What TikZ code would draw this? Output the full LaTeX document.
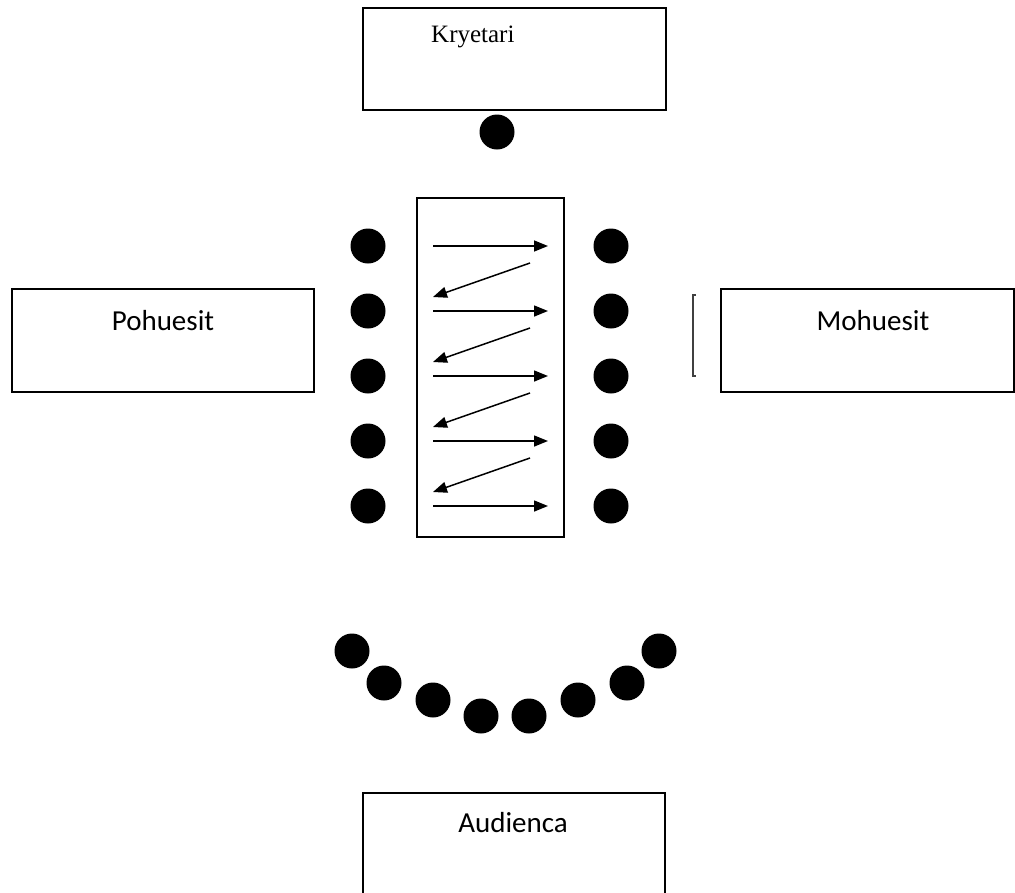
\documentclass[tikz,border=0pt]{standalone}
\usepackage{fontspec}
\setmainfont{Carlito}
\newfontfamily\serifkr{Liberation Serif}
\usetikzlibrary{arrows.meta}
\begin{document}
\begin{tikzpicture}[x=1pt,y=-1pt,
  boxline/.style={draw=black,line width=1.8pt},
  person/.style={circle,fill=black,minimum size=35pt,inner sep=0pt},
  lbl/.style={font=\fontsize{29}{32}\selectfont,anchor=base,inner sep=0pt},
  flow/.style={line width=1.5pt,-{Triangle[length=14pt,width=11pt]}}]
\useasboundingbox (0,0) rectangle (1015,892);
\begin{scope}
\clip (0,0) rectangle (1015,892);
% boxes
\draw[boxline] (363,8) rectangle (666,110);
\node[anchor=base west,inner sep=0pt,font=\serifkr\fontsize{25}{28}\selectfont] (kry) at (431,42) {Kryetari};
\draw[boxline] (12,289) rectangle (314,392);
\node[lbl] (poh) at (163,330) {Pohuesit};
\draw[boxline] (721,289) rectangle (1014,392);
\node[lbl] (moh) at (873,330) {Mohuesit};
\draw[line width=1.2pt,draw=black!75] (696,295) -- (693,295) -- (693,376) -- (696,376);
\draw[boxline] (363,900) -- (363,793) -- (665,793) -- (665,900);
\node[lbl] (aud) at (513,832) {Audienca};
% table
\draw[line width=1.5pt] (417,198) rectangle (564,537);
% dots
\node[person] (chair) at (497,132) {};
\foreach \i/\y in {1/246,2/311,3/376,4/441,5/506}{
  \node[person] (l\i) at (368,\y) {};
  \node[person] (r\i) at (611,\y) {};
  \coordinate (ra\i) at (433,\y);
  \coordinate (rb\i) at (548,\y);
  \draw[flow] (ra\i) -- (rb\i);
}
\foreach \i/\y in {1/263,2/328,3/393,4/458}{
  \coordinate (la\i) at (530,\y);
  \coordinate (lb\i) at (433,\y+34);
  \draw[flow] (la\i) -- (lb\i);
}
\foreach \i/\x/\y in {1/352/651,2/384/683,3/433/700,4/481/716,5/529/716,6/578/700,7/627/683,8/659/651}{
  \node[person] (a\i) at (\x,\y) {};
}
\end{scope}
\end{tikzpicture}
\end{document}
